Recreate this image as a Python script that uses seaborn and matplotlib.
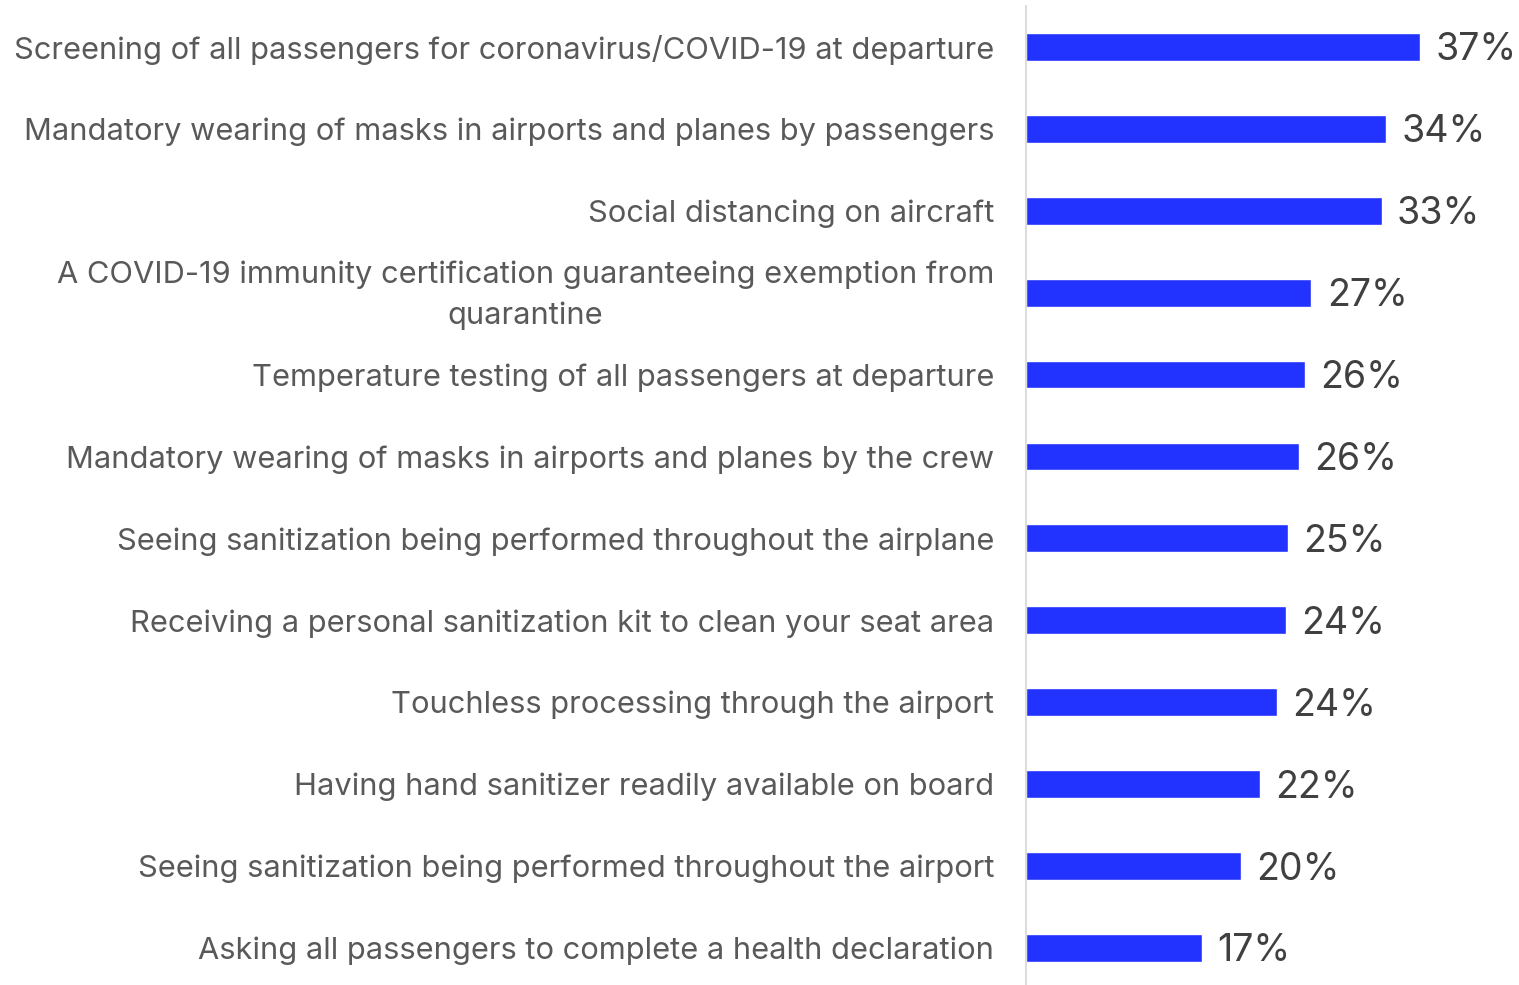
# Passenger measures that would make travellers feel safe - horizontal bar chart

import pandas as pd
import matplotlib
matplotlib.use("Agg")
import matplotlib.pyplot as plt
from matplotlib.transforms import ScaledTranslation
import seaborn as sns

# Data
measures = [
    "Screening of all passengers for coronavirus/COVID-19 at departure",
    "Mandatory wearing of masks in airports and planes by passengers",
    "Social distancing on aircraft",
    "A COVID-19 immunity certification guaranteeing exemption from\nquarantine",
    "Temperature testing of all passengers at departure",
    "Mandatory wearing of masks in airports and planes by the crew",
    "Seeing sanitization being performed throughout the airplane",
    "Receiving a personal sanitization kit to clean your seat area",
    "Touchless processing through the airport",
    "Having hand sanitizer readily available on board",
    "Seeing sanitization being performed throughout the airport",
    "Asking all passengers to complete a health declaration",
]
share = [37.0, 33.8, 33.4, 26.8, 26.2, 25.6, 24.6, 24.4, 23.6, 22.0, 20.2, 16.5]
value_labels = ["37%", "34%", "33%", "27%", "26%", "26%", "25%", "24%",
                "24%", "22%", "20%", "17%"]

df = pd.DataFrame({"Measure": measures, "Share": share})

sns.set_style("white")
plt.rcParams["font.family"] = ["Inter", "DejaVu Sans"]

fig = plt.figure(figsize=(15.19, 9.85), dpi=100)
ax = fig.add_axes([0.6755, -0.004, 0.3245, 0.998])

sns.barplot(data=df, x="Share", y="Measure", color="#2233FF",
            width=0.34, saturation=1, ax=ax)

texts = ax.bar_label(ax.containers[0], labels=value_labels, padding=11,
                     fontsize=27, color="#404040")
# nudge the value labels down a touch so they sit on the bar centre
for t in texts:
    t.xyann = (t.xyann[0], t.xyann[1] - 2.5)

ax.set_xlim(0, 46.3)
ax.set_xlabel("")
ax.set_ylabel("")
ax.set_xticks([])

for side in ["top", "right", "bottom"]:
    ax.spines[side].set_visible(False)
ax.spines["left"].set_color("#D9D9D9")
ax.spines["left"].set_linewidth(1.3)

ax.set_yticks(range(len(measures)))
ax.set_yticklabels(measures, multialignment="center",
                   fontsize=22.2, color="#595959")
ax.tick_params(axis="y", length=0, pad=23)

fig.canvas.draw()
for lbl in ax.get_yticklabels():
    lbl.set_linespacing(1.55)
    if "\n" in lbl.get_text():
        # two-line label sits a bit above the bar centre in the original
        lbl.set_transform(lbl.get_transform()
                          + ScaledTranslation(0, 0.07, fig.dpi_scale_trans))

fig.savefig("out.png", dpi=100)
